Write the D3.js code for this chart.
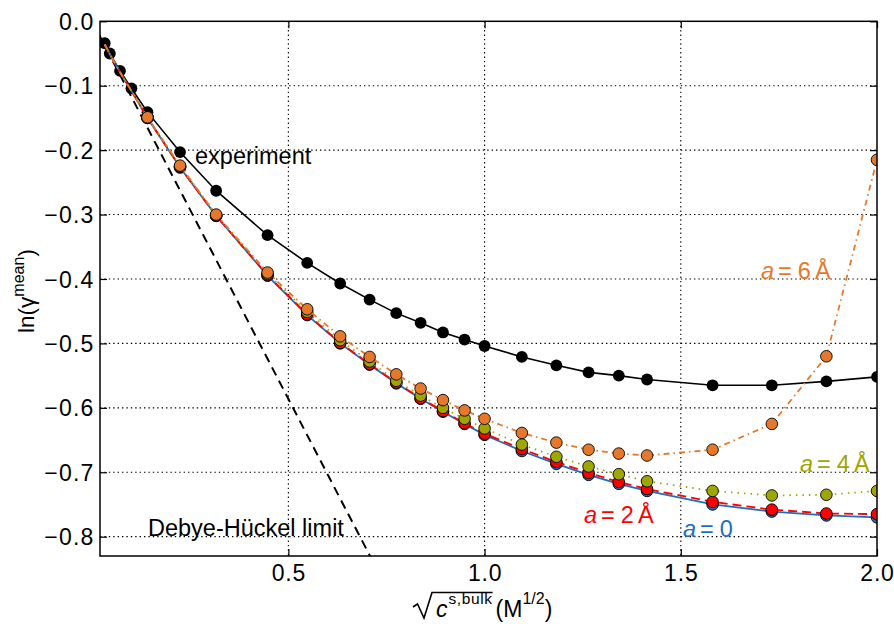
<!DOCTYPE html>
<html><head><meta charset="utf-8">
<script src="https://cdn.jsdelivr.net/npm/d3@7"></script>
<style>
body{margin:0;background:#fff;}
text{font-family:"Liberation Sans",Arial,Helvetica,sans-serif;}
</style></head>
<body><svg id="c" width="894" height="624"></svg>
<script>
// ---- data ----
const xVals = [0.032,0.045,0.071,0.100,0.141,0.224,0.316,0.447,0.548,0.632,0.707,0.775,0.837,0.894,0.949,1.000,1.095,1.183,1.265,1.342,1.414,1.581,1.732,1.871,2.000];
const experiment = [-0.034,-0.050,-0.077,-0.104,-0.141,-0.203,-0.263,-0.332,-0.375,-0.407,-0.432,-0.453,-0.468,-0.483,-0.494,-0.504,-0.521,-0.534,-0.545,-0.550,-0.556,-0.565,-0.565,-0.559,-0.552];
const a0 = [-0.036,-0.051,-0.079,-0.108,-0.150,-0.227,-0.302,-0.395,-0.456,-0.500,-0.533,-0.562,-0.586,-0.606,-0.625,-0.642,-0.667,-0.687,-0.704,-0.718,-0.729,-0.750,-0.761,-0.767,-0.770];
const a2 = [-0.036,-0.051,-0.079,-0.108,-0.150,-0.226,-0.302,-0.394,-0.455,-0.499,-0.532,-0.561,-0.585,-0.605,-0.624,-0.640,-0.664,-0.684,-0.701,-0.715,-0.726,-0.746,-0.758,-0.764,-0.765];
const a4 = [-0.036,-0.051,-0.079,-0.108,-0.149,-0.225,-0.301,-0.392,-0.451,-0.495,-0.528,-0.558,-0.581,-0.600,-0.617,-0.632,-0.657,-0.676,-0.691,-0.703,-0.714,-0.729,-0.736,-0.735,-0.729];
const a6 = [-0.036,-0.051,-0.079,-0.108,-0.149,-0.224,-0.300,-0.390,-0.447,-0.489,-0.521,-0.548,-0.570,-0.588,-0.604,-0.617,-0.639,-0.654,-0.665,-0.671,-0.674,-0.665,-0.625,-0.520,-0.215];
const dhX = [0.0, 0.72];
const dhY = [0.0, -0.844];
const xTicks = [0.5, 1.0, 1.5, 2.0];
const xTickLabels = ["0.5","1.0","1.5","2.0"];
const yTicks = [0.0,-0.1,-0.2,-0.3,-0.4,-0.5,-0.6,-0.7,-0.8];
const yTickLabels = ["0.0","\u22120.1","\u22120.2","\u22120.3","\u22120.4","\u22120.5","\u22120.6","\u22120.7","\u22120.8"];

// ---- layout ----
const L=100, R=877, T=21.3, B=556;
const svg = d3.select("#c");
const x = d3.scaleLinear().domain([0.02,2.0]).range([L,R]);
const y = d3.scaleLinear().domain([0,-0.83]).range([T,B]);

svg.append("defs").append("clipPath").attr("id","clip")
  .append("rect").attr("x",L).attr("y",T).attr("width",R-L).attr("height",B-T);

// grid
const g = svg.append("g");
g.selectAll(".gx").data(xTicks.filter(v=>v<2.0)).enter().append("line")
  .attr("x1",d=>x(d)).attr("x2",d=>x(d)).attr("y1",T).attr("y2",B)
  .attr("stroke","#000").attr("stroke-width",1.1).attr("stroke-dasharray","1.4,3");
g.selectAll(".gy").data(yTicks.filter(v=>v<0)).enter().append("line")
  .attr("y1",d=>y(d)).attr("y2",d=>y(d)).attr("x1",L).attr("x2",R)
  .attr("stroke","#000").attr("stroke-width",1.1).attr("stroke-dasharray","1.4,3");

const plot = svg.append("g").attr("clip-path","url(#clip)");
const idx = xVals.map((v,i)=>i);
const mkLine = arr => d3.line().x(i=>x(xVals[i])).y(i=>y(arr[i]))(idx);

// DH limit
plot.append("path").attr("d", d3.line().x((d,i)=>x(dhX[i])).y((d,i)=>y(dhY[i]))(dhX))
  .attr("fill","none").attr("stroke","#000").attr("stroke-width",2).attr("stroke-dasharray","9,6");

// experiment
plot.append("path").attr("d",mkLine(experiment)).attr("fill","none").attr("stroke","#000").attr("stroke-width",1.6);
plot.selectAll(".ep").data(idx).enter().append("circle")
  .attr("cx",i=>x(xVals[i])).attr("cy",i=>y(experiment[i])).attr("r",5.9).attr("fill","#000");

const series = [
  {v:a0, c:"#1a6fc0", dash:null},
  {v:a2, c:"#ff0000", dash:"9,5"},
  {v:a4, c:"#9ea600", dash:"1.5,5"},
  {v:a6, c:"#e5782b", dash:"6,4,1.5,4"}
];
series.forEach(s=>{
  const p = plot.append("path").attr("d",mkLine(s.v)).attr("fill","none").attr("stroke",s.c).attr("stroke-width",1.8);
  if(s.dash) p.attr("stroke-dasharray",s.dash);
  plot.selectAll(null).data(idx.filter(i=>xVals[i]>0.12)).enter().append("circle")
    .attr("cx",i=>x(xVals[i])).attr("cy",i=>y(s.v[i])).attr("r",5.8)
    .attr("fill",s.c).attr("stroke","#000").attr("stroke-width",0.9);
});

// frame
svg.append("rect").attr("x",L).attr("y",T).attr("width",R-L).attr("height",B-T)
  .attr("fill","none").attr("stroke","#000").attr("stroke-width",1.5);

// ticks (inward) via axes
const ax = svg.append("g");
const xb = ax.append("g").attr("transform",`translate(0,${B})`).call(d3.axisBottom(x).tickValues(xTicks).tickSize(-7).tickFormat((d,i)=>xTickLabels[i]).tickPadding(9));
const xt = ax.append("g").attr("transform",`translate(0,${T})`).call(d3.axisTop(x).tickValues(xTicks).tickSize(-7).tickFormat(""));
const yl = ax.append("g").attr("transform",`translate(${L},0)`).call(d3.axisLeft(y).tickValues(yTicks).tickSize(-7).tickFormat((d,i)=>yTickLabels[i]));
const yr = ax.append("g").attr("transform",`translate(${R},0)`).call(d3.axisRight(y).tickValues(yTicks).tickSize(-7).tickFormat(""));
[xb,xt,yl,yr].forEach(a=>{a.select(".domain").remove(); a.selectAll("line").attr("stroke","#000").attr("stroke-width",1.2);});
xb.selectAll("text").attr("font-size",23).attr("fill","#000").style("letter-spacing","0.8px");
yl.selectAll("text").attr("font-size",23).attr("fill","#000").style("letter-spacing","1.2px").attr("x",-5.5).attr("dy","0.35em");

// annotations
function ann(xp,yp,parts,color){
  const t = svg.append("text").attr("x",xp).attr("y",yp).attr("font-size",23.5).attr("fill",color);
  parts.forEach(p=>{const s=t.append("tspan").text(p.t); if(p.i) s.attr("font-style","italic"); if(p.dx) s.attr("dx",p.dx);});
  return t;
}
ann(195,163.5,[{t:"experiment"}],"#000");
ann(148,536,[{t:"Debye-H\u00fcckel limit"}],"#000");
ann(761,279,[{t:"a",i:1},{t:"=",dx:4},{t:"6",dx:6},{t:"\u00c5",dx:4}],"#e5782b");
ann(800,472,[{t:"a",i:1},{t:"=",dx:4},{t:"4",dx:6},{t:"\u00c5",dx:4}],"#9ea600");
ann(584,523,[{t:"a",i:1},{t:"=",dx:4},{t:"2",dx:6},{t:"\u00c5",dx:4}],"#ff0000");
ann(683,537,[{t:"a",i:1},{t:"=",dx:4},{t:"0",dx:6}],"#1a6fc0");

// y label
const ylab = svg.append("text").attr("transform","translate(34,291) rotate(-90)").attr("text-anchor","middle").attr("font-size",22.5).attr("fill","#000");
ylab.append("tspan").text("ln(\u03b3");
ylab.append("tspan").text("mean").attr("font-size",16).attr("dy",-10);
ylab.append("tspan").text(")").attr("dy",10);

// x label
const xl = svg.append("g");
const base = 617;
const ovY = 592.5;
const cT = xl.append("text").attr("x",436).attr("y",base).attr("font-size",23);
cT.append("tspan").text("c").attr("font-style","italic");
cT.append("tspan").text("s,bulk").attr("font-size",15.5).attr("dy",-13).attr("dx",1).style("letter-spacing","0.6px");
const cW = cT.node().getComputedTextLength();
const ovEnd = 436+cW+1;
xl.append("path")
  .attr("d",`M413,607 L417.5,604 L424,618 L432,${ovY} L${ovEnd},${ovY}`)
  .attr("fill","none").attr("stroke","#000").attr("stroke-width",1.6).attr("stroke-linejoin","miter");
const mT = xl.append("text").attr("x",ovEnd+3).attr("y",base).attr("font-size",23);
mT.append("tspan").text("(M");
mT.append("tspan").text("1/2").attr("font-size",16).attr("dy",-13);
mT.append("tspan").text(")").attr("dy",13);
</script></body></html>
